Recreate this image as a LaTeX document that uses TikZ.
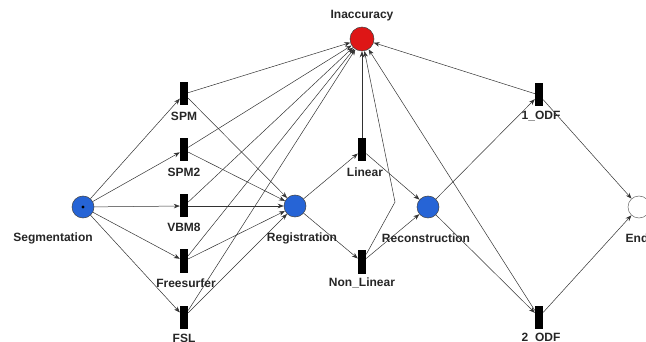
\documentclass[tikz,border=0pt]{standalone}
\usepackage{fontspec}
\setmainfont{Liberation Sans}
\usetikzlibrary{arrows.meta}
\definecolor{placeblue}{RGB}{38,100,214}
\definecolor{placered}{RGB}{222,22,22}
\definecolor{edgegray}{RGB}{50,50,50}
\begin{document}
\begin{tikzpicture}[x=1pt,y=-1pt,
  place/.style={circle,draw=black!75,line width=0.5pt,minimum size=22pt,inner sep=0pt,fill=placeblue},
  trans/.style={rectangle,fill=black,minimum width=8pt,minimum height=23pt,inner sep=0pt},
  lbl/.style={font=\fontsize{12}{14}\selectfont\bfseries,text=black!85,inner sep=0pt},
  arc/.style={draw=edgegray,line width=0.5pt,-{Stealth[length=6pt,width=4.5pt]}}]
\useasboundingbox (0,0) rectangle (646,342);
% places
\node[place,fill=placered,minimum size=24pt] (inacc) at (362,39) {};
\node[place] (seg) at (83,207) {};
\node[place] (reg) at (295,206) {};
\node[place] (recon) at (428,207) {};
\node[place,fill=white,draw=black!60] (endp) at (639,207) {};
\fill[black] (seg.center) circle (1.6pt);
% transitions
\node[trans] (spm) at (184,94) {};
\node[trans] (spmtwo) at (184,150) {};
\node[trans] (vbm) at (184,206) {};
\node[trans] (free) at (184,261) {};
\node[trans] (fsl) at (184,317) {};
\node[trans] (lin) at (362,150) {};
\node[trans] (nonlin) at (362,262) {};
\node[trans] (odfone) at (539,95) {};
\node[trans] (odftwo) at (539,317) {};
% labels
\node[lbl] (linacc) at (362,16) {Inaccuracy};
\node[lbl] (lseg) at (53,238) {Segmentation};
\node[lbl] (lreg) at (302,238) {Registration};
\node[lbl] (lrecon) at (426,238) {Reconstruction};
\node[lbl] (lend) at (637,238) {End};
\node[lbl] (lspm) at (184,116) {SPM};
\node[lbl] (lspmtwo) at (184,172) {SPM2};
\node[lbl] (lvbm) at (184,227) {VBM8};
\node[lbl] (lfree) at (186,283) {Freesurfer};
\node[lbl] (lfsl) at (184,338) {FSL};
\node[lbl] (llin) at (365,172) {Linear};
\node[lbl] (lnonlin) at (362,283) {Non\_Linear};
\node[lbl] (lodfone) at (541,116) {1\_ODF};
\node[lbl] (lodftwo) at (541,338) {2\_ODF};
% arcs
\coordinate (bend) at (395,202);
\foreach \t in {spm,spmtwo,vbm,free,fsl}{
  \draw[arc] (seg) -- (\t);
  \draw[arc] (\t) -- (reg);
  \draw[arc] (\t) -- (inacc);
}
\draw[arc] (reg) -- (lin);
\draw[arc] (reg) -- (nonlin);
\draw[arc] (lin) -- (recon);
\draw[arc] (nonlin) -- (recon);
\draw[arc] (lin) -- (inacc);
\draw[arc] (nonlin) -- (bend) -- (inacc);
\draw[arc] (recon) -- (odfone);
\draw[arc] (recon) -- (odftwo);
\draw[arc] (odfone) -- (endp);
\draw[arc] (odftwo) -- (endp);
\draw[arc] (odfone) -- (inacc);
\draw[arc] (odftwo) -- (inacc);
\end{tikzpicture}
\end{document}
